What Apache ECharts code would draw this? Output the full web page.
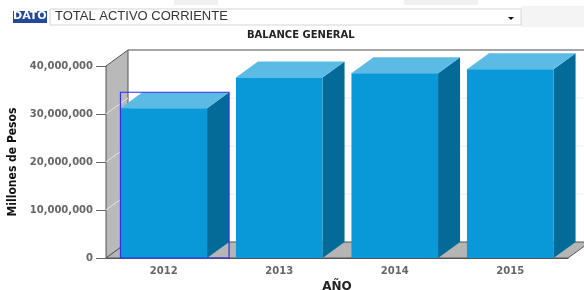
<!DOCTYPE html>
<html>
<head>
<meta charset="utf-8">
<script src="https://cdn.jsdelivr.net/npm/echarts/dist/echarts.min.js"></script>
<style>
html, body { margin: 0; padding: 0; background: #fff; }
#grafico { width: 584px; height: 290px; }
</style>
</head>
<body>
<div id="grafico"></div>
<script>
// datos del balance
var anios = ['2012', '2013', '2014', '2015'];
var valores = [31200000, 37600000, 38500000, 39300000];
var ticksY = [0, 10000000, 20000000, 30000000, 40000000];
var anioSeleccionado = '2012';

var grafico = echarts.init(document.getElementById('grafico'));

// profundidad del efecto 3d
var DX = 22, DY = -16;

function miles(v) {
    return String(v).replace(/\B(?=(\d{3})+(?!\d))/g, ',');
}

function pintarParedes(params, api) {
    var cs = params.coordSys;
    var xl = cs.x, xr = cs.x + cs.width, yt = cs.y, yb = cs.y + cs.height;
    var hijos = [];
    // pared del fondo
    hijos.push({ type: 'rect', shape: { x: xl + DX, y: yt + DY, width: cs.width + 40, height: cs.height },
        style: { fill: '#ffffff' } });
    // lineas de la pared del fondo
    ticksY.forEach(function (v) {
        var y = api.coord([0, v])[1];
        hijos.push({ type: 'line', shape: { x1: xl + DX, y1: y + DY, x2: xr + DX + 40, y2: y + DY },
            style: { stroke: '#eeeeee', lineWidth: 1 } });
    });
    // pared izquierda
    hijos.push({ type: 'polygon', shape: { points: [[xl, yt], [xl + DX, yt + DY], [xl + DX, yb + DY], [xl, yb]] },
        style: { fill: '#b9b9b9', stroke: '#555', lineWidth: 1 } });
    ticksY.forEach(function (v, k) {
        if (k === 0 || k === ticksY.length - 1) return;
        var y = api.coord([0, v])[1];
        hijos.push({ type: 'line', shape: { x1: xl, y1: y, x2: xl + DX, y2: y + DY },
            style: { stroke: '#e6e6e6', lineWidth: 1 } });
    });
    // piso
    hijos.push({ type: 'polygon', shape: { points: [[xl, yb], [xl + DX, yb + DY], [xr + DX, yb + DY], [xr, yb]] },
        style: { fill: '#b5b5b5', stroke: '#555', lineWidth: 1 } });
    // borde superior del fondo
    hijos.push({ type: 'line', shape: { x1: xl + DX, y1: yt + DY, x2: xr + DX + 40, y2: yt + DY },
        style: { stroke: '#555', lineWidth: 1 } });
    return { type: 'group', children: hijos };
}

function pintarBarra(params, api) {
    var i = api.value(0);
    var base = api.coord([i, 0]);
    var tope = api.coord([i, api.value(1)]);
    var w = api.size([1, 0])[0] * 0.75;
    var x0 = base[0] - w / 2, x1 = base[0] + w / 2, y0 = tope[1], y1 = base[1];
    var hijos = [
        { type: 'polygon', shape: { points: [[x1, y0], [x1 + DX, y0 + DY], [x1 + DX, y1 + DY], [x1, y1]] },
            style: { fill: '#046b98' } },
        { type: 'polygon', shape: { points: [[x0, y0], [x0 + DX, y0 + DY], [x1 + DX, y0 + DY], [x1, y0]] },
            style: { fill: '#5cbbe4' } },
        { type: 'rect', shape: { x: x0, y: y0, width: w, height: y1 - y0 },
            style: { fill: '#0a99d8' } }
    ];
    if (anios[i] === anioSeleccionado) {
        hijos.push({ type: 'rect', shape: { x: x0, y: y0 + DY, width: w + DX, height: y1 - y0 - DY },
            style: { fill: 'none', stroke: '#3030ee', lineWidth: 1.2 } });
    }
    return { type: 'group', children: hijos };
}

var opcion = {
    animation: false,
    title: {
        text: 'BALANCE GENERAL',
        left: 247,
        top: 30,
        padding: 0,
        textStyle: { fontFamily: 'DejaVu Sans', fontSize: 10, fontWeight: 'bold', color: '#222' }
    },
    grid: { left: 106, right: 16, top: 66, bottom: 32, outerBoundsMode: 'none', containLabel: false },
    xAxis: {
        type: 'category',
        data: anios,
        name: 'AÑO',
        nameLocation: 'middle',
        nameGap: 22,
        nameTextStyle: { fontFamily: 'DejaVu Sans', fontSize: 12, fontWeight: 'bold', color: '#222' },
        axisLine: { lineStyle: { color: '#555', width: 1 } },
        axisTick: { alignWithLabel: true, length: 5, lineStyle: { color: '#555' } },
        axisLabel: { margin: 8, fontFamily: 'DejaVu Sans', fontSize: 10, fontWeight: 'bold', color: '#666' }
    },
    yAxis: {
        type: 'value',
        min: 0,
        max: 40000000,
        interval: 10000000,
        name: 'Millones de Pesos',
        nameLocation: 'middle',
        nameGap: 81,
        nameTextStyle: { fontFamily: '"DejaVu Sans Condensed", "DejaVu Sans"', fontSize: 12, fontWeight: 'bold', color: '#111' },
        axisLine: { show: true, lineStyle: { color: '#6b7785', width: 1 } },
        axisTick: { show: true, length: 10, lineStyle: { color: '#666' } },
        axisLabel: { margin: 13, fontFamily: 'DejaVu Sans', fontSize: 10, fontWeight: 'bold', color: '#666',
            formatter: miles },
        splitLine: { show: false }
    },
    graphic: [
        { type: 'rect', shape: { x: 174, y: 0, width: 44, height: 5 }, style: { fill: '#f0f0f0' } },
        { type: 'rect', shape: { x: 404, y: 0, width: 74, height: 5 }, style: { fill: '#f0f0f0' } },
        { type: 'rect', shape: { x: 521, y: 6, width: 63, height: 21 }, style: { fill: '#f4f4f4' } },
        { type: 'rect', shape: { x: 13, y: 11, width: 34, height: 12 }, style: { fill: '#23499a' } },
        { type: 'text', left: 13, top: 11, style: { text: 'DATO', fill: '#fff', font: 'bold 11px "DejaVu Sans"' } },
        { type: 'rect', shape: { x: 50, y: 9, width: 471, height: 16 }, style: { fill: '#fff', stroke: '#d4d4d4', lineWidth: 1 } },
        { type: 'text', left: 55, top: 10, style: { text: 'TOTAL ACTIVO CORRIENTE', fill: '#333', font: '13px "Liberation Sans"' } },
        { type: 'polygon', shape: { points: [[508, 17], [514, 17], [511, 20]] }, style: { fill: '#111' } }
    ],
    series: [
        {
            type: 'custom',
            renderItem: pintarParedes,
            data: [[0, 0]],
            z: 1,
            silent: true
        },
        {
            type: 'custom',
            renderItem: pintarBarra,
            data: anios.map(function (a, i) { return [i, valores[i]]; }),
            z: 2
        }
    ]
};

grafico.setOption(opcion);
</script>
</body>
</html>
